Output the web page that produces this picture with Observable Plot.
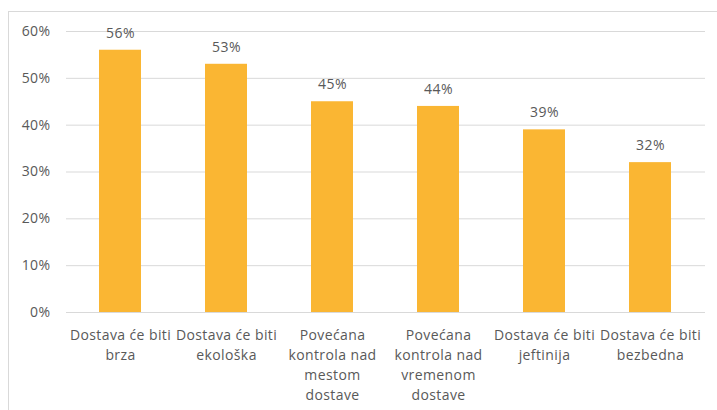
<!DOCTYPE html>
<html>
<head>
<meta charset="utf-8">
<script src="https://cdn.jsdelivr.net/npm/d3@7"></script>
<script src="https://cdn.jsdelivr.net/npm/@observablehq/plot@0.6"></script>
<style>
  html, body { margin: 0; padding: 0; background: #fff; overflow: hidden; }
  #wrap { position: relative; width: 717px; height: 410px; }
  #frame { position: absolute; left: 8px; top: 11px; width: 760px; height: 460px; border: 1px solid #d9d9d9; box-sizing: border-box; pointer-events: none; }
  #chart { position: absolute; left: 0; top: 0; }
</style>
</head>
<body>
<div id="wrap"><div id="chart"></div><div id="frame"></div></div>
<script>
const categories = [
  "Dostava će biti\nbrza",
  "Dostava će biti\nekološka",
  "Povećana\nkontrola nad\nmestom\ndostave",
  "Povećana\nkontrola nad\nvremenom\ndostave",
  "Dostava će biti\njeftinija",
  "Dostava će biti\nbezbedna"
];
const values = [0.56, 0.53, 0.45, 0.44, 0.39, 0.32];
const yTicks = [0, 0.1, 0.2, 0.3, 0.4, 0.5, 0.6];

const data = categories.map((c, i) => ({category: c, value: values[i]}));
const font = "'Open Sans', Lato, sans-serif";
const textColor = "#595959";

const chart = Plot.plot({
  width: 717,
  height: 410,
  marginLeft: 66,
  marginRight: 12,
  marginTop: 31,
  marginBottom: 98,
  style: {fontFamily: font, fontSize: "14px", letterSpacing: "0.4px", color: textColor, background: "transparent"},
  x: {domain: categories, paddingInner: 0.6, paddingOuter: 0.3, axis: null, label: null},
  y: {domain: [0, 0.6], axis: null, label: null},
  marks: [
    Plot.ruleY(yTicks, {stroke: "#d9d9d9", strokeWidth: 1}),
    Plot.barY(data, {x: "category", y: "value", fill: "#FAB633"}),
    Plot.text(data, {x: "category", y: "value", text: d => d3.format(".0%")(d.value), dy: -17, fill: textColor, fontSize: 14}),
    Plot.axisY(yTicks, {tickSize: 0, tickPadding: 16, tickFormat: d3.format(".0%"), fill: textColor, fontSize: 14, label: null}),
    Plot.text(categories, {x: d => d, frameAnchor: "bottom", dy: 13, lineAnchor: "top", lineHeight: 1.43, text: d => d, fill: textColor, fontSize: 14})
  ]
});
document.getElementById("chart").appendChild(chart);
</script>
</body>
</html>
